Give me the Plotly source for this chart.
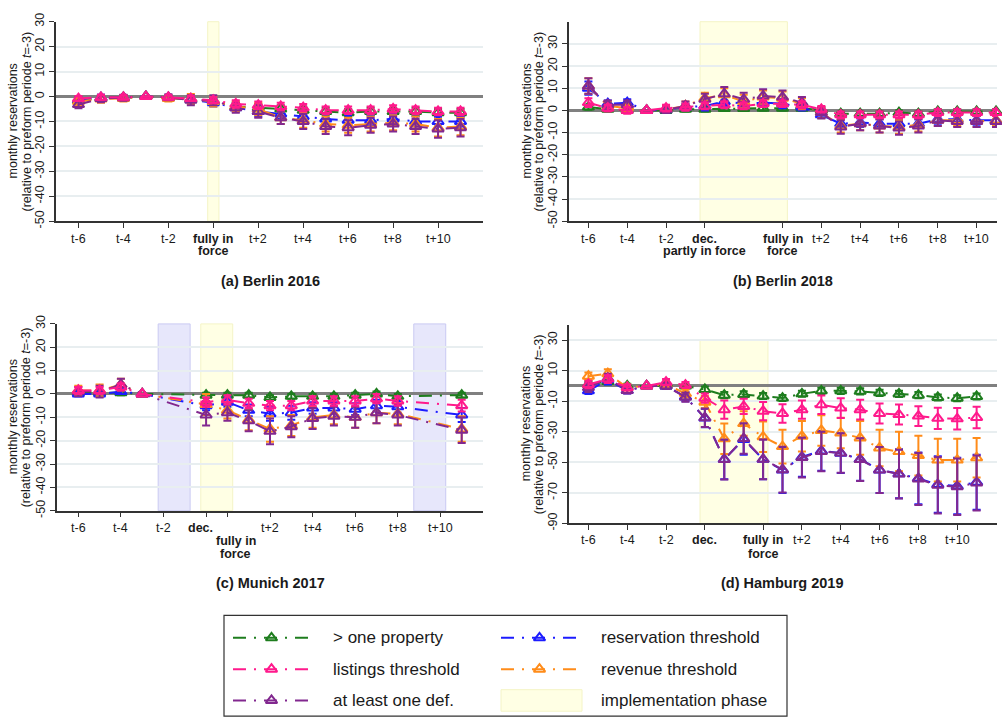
import plotly.graph_objects as go

W, H = 1002, 727
FONT = "Liberation Sans, Arial, sans-serif"

# ---------------- data ----------------
series_names = ["> one property", "reservation threshold", "revenue threshold",
                "at least one def.", "listings threshold"]
series_colors = {"> one property": "#1e7d1e", "listings threshold": "#ff1a8c",
                 "at least one def.": "#82288f", "reservation threshold": "#1c1cff",
                 "revenue threshold": "#ff8c1a"}

# (a) Berlin 2016
x_a = list(range(-6, 12))
green_a = [-1.5, -0.5, -0.3, 0, -0.5, -1.0, -2.0, -4.0, -4.5, -5.0, -5.5, -6.0, -6.5, -6.0, -6.0, -6.0, -6.5, -6.5]
pink_a = [-0.8, -0.3, -0.3, 0, -0.3, -0.8, -1.5, -3.0, -3.5, -4.0, -4.5, -5.5, -5.5, -5.5, -5.0, -5.5, -6.0, -6.0]
purple_a = [-3.2, -0.8, -0.5, 0, -0.3, -1.5, -1.5, -4.5, -6.0, -8.5, -10.0, -12.0, -12.5, -11.5, -11.0, -12.0, -13.0, -12.5]
blue_a = [-1.5, -0.5, -0.5, 0, -0.5, -1.2, -2.5, -4.5, -6.0, -7.0, -8.0, -9.0, -9.5, -9.5, -9.0, -10.0, -10.0, -10.0]
orange_a = [-2.0, -1.0, -0.8, 0, -0.8, -1.0, -2.0, -4.0, -5.0, -8.5, -9.5, -11.0, -11.5, -11.0, -10.5, -11.0, -12.5, -12.0]
green_a_err = [1.0, 1.0, 0.8, 0, 0.8, 1.0, 1.2, 1.5, 1.5, 1.5, 1.5, 1.5, 1.5, 1.5, 1.5, 1.5, 1.5, 1.5]
pink_a_err = [1.0, 1.0, 0.8, 0, 0.8, 1.0, 1.2, 1.5, 1.5, 1.5, 1.5, 1.5, 1.5, 1.5, 1.5, 1.5, 1.5, 1.5]
purple_a_err = [1.5, 1.5, 1.2, 0, 1.2, 2.0, 2.0, 2.0, 2.5, 2.5, 3.0, 3.0, 3.0, 3.0, 3.0, 3.0, 3.5, 3.5]
blue_a_err = [1.2, 1.2, 1.0, 0, 1.0, 1.5, 1.5, 1.5, 2.0, 2.0, 2.0, 2.0, 2.0, 2.0, 2.0, 2.0, 2.0, 2.0]
orange_a_err = [1.5, 1.5, 1.2, 0, 1.2, 2.0, 2.0, 2.0, 2.5, 2.5, 3.0, 3.0, 3.0, 3.0, 3.0, 3.0, 3.5, 3.5]

# (b) Berlin 2018
x_b = list(range(-6, 16))
green_b = [1.5, 0.5, 0, 0, 0, 0.5, 0.5, 0.8, 0.8, 1.0, 1.0, 1.0, 0, -1.5, -1.5, -1.5, -1.0, -1.5, -0.5, -0.5, -0.5, -0.5]
pink_b = [3.5, 1.0, 0, 0, 1.0, 1.5, 2.0, 2.5, 2.0, 3.0, 3.0, 2.5, 0.5, -2.0, -2.0, -2.0, -2.0, -2.0, -1.0, -1.0, -1.0, -1.0]
purple_b = [11.0, 2.5, 2.5, 0, 0.3, 2.0, 5.0, 7.5, 5.0, 6.5, 6.0, 3.5, -1.0, -7.5, -6.0, -7.0, -8.0, -7.0, -4.5, -5.0, -5.0, -5.0]
blue_b = [10.0, 3.0, 3.5, 0, 0.3, 1.5, 2.0, 4.0, 3.0, 3.5, 3.0, 1.5, -2.0, -6.0, -5.5, -6.0, -6.0, -6.0, -4.0, -4.0, -4.5, -4.5]
orange_b = [11.0, 2.0, 1.0, 0, 0.5, 2.0, 5.5, 7.0, 4.0, 6.0, 5.5, 3.0, -1.0, -7.0, -6.0, -7.0, -7.5, -6.5, -4.5, -4.5, -5.0, -4.5]
green_b_err = [1.2, 1.0, 1.0, 0, 1.0, 1.0, 1.0, 1.0, 1.0, 1.0, 1.0, 1.0, 1.0, 1.0, 1.0, 1.0, 1.0, 1.0, 1.0, 1.0, 1.0, 1.0]
pink_b_err = [2.0, 1.5, 1.5, 0, 1.5, 1.5, 1.5, 1.5, 1.5, 1.5, 1.5, 1.5, 1.5, 1.5, 1.5, 1.5, 1.5, 1.5, 1.5, 1.5, 1.5, 1.5]
purple_b_err = [3.5, 2.0, 2.0, 0, 1.5, 2.0, 2.5, 3.0, 3.0, 3.0, 3.0, 2.5, 2.5, 3.0, 3.0, 3.0, 3.0, 3.0, 2.5, 2.5, 2.5, 2.5]
blue_b_err = [3.0, 1.5, 1.5, 0, 1.0, 1.5, 2.0, 2.0, 2.0, 2.0, 2.0, 1.5, 1.5, 2.0, 2.0, 2.0, 2.0, 2.0, 2.0, 2.0, 2.0, 2.0]
orange_b_err = [3.5, 2.0, 2.0, 0, 1.5, 2.0, 2.5, 3.0, 3.0, 3.0, 3.0, 2.5, 2.5, 3.0, 3.0, 3.0, 3.0, 3.0, 2.5, 2.5, 2.5, 2.5]

# (c) Munich 2017
x_c = [-6, -5, -4, -3, 0, 1, 2, 3, 4, 5, 6, 7, 8, 9, 12]
green_c = [0.5, 0.5, 0.5, 0, -0.5, -0.5, -0.5, -1.5, -1.0, -1.0, -1.0, -0.5, 0, -1.0, -0.5]
pink_c = [1.5, 1.5, 3.0, 0, -3.5, -2.5, -4.0, -5.0, -5.0, -3.0, -3.0, -3.0, -2.0, -3.0, -5.0]
purple_c = [1.0, 1.0, 4.0, 0, -9.0, -8.0, -11.5, -16.0, -14.0, -10.5, -9.5, -10.0, -8.0, -9.0, -15.5]
blue_c = [0, 0, 1.0, 0, -5.0, -3.5, -7.0, -8.5, -8.0, -6.0, -6.0, -6.5, -5.0, -5.5, -9.0]
orange_c = [1.5, 1.5, 4.0, 0, -4.5, -7.0, -11.0, -15.0, -13.5, -10.0, -9.0, -10.0, -8.0, -8.5, -15.0]
green_c_err = [1.0, 1.0, 1.0, 0, 1.0, 1.0, 1.0, 1.0, 1.0, 1.0, 1.0, 1.0, 1.0, 1.0, 1.0]
pink_c_err = [1.5, 1.5, 1.5, 0, 2.0, 2.0, 2.0, 2.0, 2.0, 2.0, 2.0, 2.0, 2.0, 2.0, 2.5]
purple_c_err = [2.0, 2.5, 2.5, 0, 4.5, 3.5, 4.5, 5.5, 4.5, 4.5, 4.0, 4.5, 4.5, 4.5, 5.5]
blue_c_err = [1.0, 1.0, 1.0, 0, 2.0, 2.0, 2.5, 3.0, 3.0, 2.5, 2.5, 2.5, 2.5, 2.5, 3.0]
orange_c_err = [2.0, 2.5, 2.5, 0, 4.5, 3.5, 4.5, 5.5, 4.5, 4.5, 4.0, 4.5, 4.5, 4.5, 5.5]

# (d) Hamburg 2019
x_d = list(range(-6, 15))
green_d = [1, 3, 0, 0, 0, 0, -2.3, -6, -5.5, -6.6, -7.9, -5.1, -3.2, -3.2, -3.5, -4.5, -5.2, -6.0, -7.5, -8.0, -6.9]
pink_d = [1, 4.5, -1, 0, 2.5, 0.6, -8, -15.5, -13.4, -16.5, -18, -15.5, -12.3, -14.5, -15.5, -18, -18.7, -19.7, -21.2, -21.5, -20.6]
orange_d = [6.4, 8, -1, 0, 1, -5, -10.6, -34.6, -24.6, -33.3, -39.7, -32.9, -29.1, -30.8, -34, -40.6, -42.9, -45.6, -48.5, -48.5, -47]
purple_d = [-1, 5, -3, 0, 0, -7.4, -20.8, -48.2, -34.4, -48, -54.8, -46.9, -42.9, -43.9, -48.2, -55, -57.7, -60.9, -65, -66, -63.5]
blue_d = [-3.2, 4, -3, 0, 0, -7, -21, -48, -35, -48, -55, -46.5, -42.5, -44, -48, -55, -57.5, -60.5, -64.5, -65.5, -63]
green_d_err = [2.0, 2.0, 1.5, 0, 1.5, 1.5, 2.0, 2.0, 2.0, 2.0, 2.0, 2.0, 2.0, 2.0, 2.0, 2.0, 2.0, 2.0, 2.0, 2.0, 2.0]
pink_d_err = [2.5, 2.5, 2.0, 0, 2.0, 2.0, 3.0, 6.0, 5.0, 6.0, 6.0, 6.0, 6.0, 6.5, 6.5, 6.5, 6.5, 6.5, 7.0, 7.0, 7.0]
orange_d_err = [2.5, 3.0, 2.0, 0, 2.0, 2.5, 4.0, 10.0, 8.0, 10.0, 11.0, 10.0, 10.0, 10.0, 11.0, 12.0, 13.0, 13.0, 14.0, 14.0, 13.0]
purple_d_err = [3.0, 3.0, 2.0, 0, 2.0, 3.0, 6.0, 13.0, 10.0, 13.0, 15.0, 13.0, 13.0, 13.0, 14.0, 15.0, 16.0, 17.0, 18.5, 18.5, 18.0]
blue_d_err = [2.0, 3.0, 2.0, 0, 2.0, 3.0, 6.0, 13.0, 10.0, 13.0, 15.0, 13.0, 13.0, 13.0, 14.0, 15.0, 16.0, 17.0, 18.5, 18.5, 18.0]

# tick labels (value, first line, second line, third line)
ticks_a = [(-6, "t-6"), (-4, "t-4"), (-2, "t-2"), (0, "<b>fully in</b>", "<b>force</b>"),
           (2, "t+2"), (4, "t+4"), (6, "t+6"), (8, "t+8"), (10, "t+10")]
ticks_b = [(-6, "t-6"), (-4, "t-4"), (-2, "t-2"), (0, "<b>dec.</b>", "<b>partly in force</b>"),
           (4, "<b>fully in</b>", "<b>force</b>"), (6, "t+2"), (8, "t+4"), (10, "t+6"),
           (12, "t+8"), (14, "t+10")]
ticks_c = [(-6, "t-6"), (-4, "t-4"), (-2, "t-2"), (0, "<b>dec.</b>"), (1, "", "<b>fully in</b>", "<b>force</b>"),
           (3, "t+2"), (5, "t+4"), (7, "t+6"), (9, "t+8"), (11, "t+10")]
ticks_d = [(-6, "t-6"), (-4, "t-4"), (-2, "t-2"), (0, "<b>dec.</b>"), (3, "<b>fully in</b>", "<b>force</b>"),
           (5, "t+2"), (7, "t+4"), (9, "t+6"), (11, "t+8"), (13, "t+10")]
label_shift_c = {0: -0.28, 1: 0.4}

yticks_abc = [-50, -40, -30, -20, -10, 0, 10, 20, 30]
yticks_d = [-90, -70, -50, -30, -10, 10, 30]

titles = ["(a) Berlin 2016", "(b) Berlin 2018", "(c) Munich 2017", "(d) Hamburg 2019"]
ytitle1 = "monthly reservations"
ytitle2 = "(relative to preform periode <i>t</i>=-3)"

legend_col1 = ["> one property", "listings threshold", "at least one def."]
legend_col2 = ["reservation threshold", "revenue threshold"]
legend_phase = "implementation phase"

# ---------------- layout helpers ----------------
def fx(p):
    return p / W

def fy(p):
    return 1 - p / H

panels = [
    dict(ax="", x=x_a, data={"> one property": (green_a, green_a_err), "listings threshold": (pink_a, pink_a_err),
                              "at least one def.": (purple_a, purple_a_err), "reservation threshold": (blue_a, blue_a_err),
                              "revenue threshold": (orange_a, orange_a_err)},
         dom=(56, 483, 13, 217), xr=[-7, 12], yr=[-50, 30], yt=yticks_abc, ticks=ticks_a,
         lines=(235, 247, 259), bands=[(-0.25, 0.25, "y", None)], title_xy=(270, 278),
         yt_x=(13, 27)),
    dict(ax="2", x=x_b, data={"> one property": (green_b, green_b_err), "listings threshold": (pink_b, pink_b_err),
                               "at least one def.": (purple_b, purple_b_err), "reservation threshold": (blue_b, blue_b_err),
                               "revenue threshold": (orange_b, orange_b_err)},
         dom=(569, 997, 13, 217), xr=[-7, 15.05], yr=[-50, 40], yt=yticks_abc, ticks=ticks_b,
         lines=(235, 247, 259), bands=[(-0.25, 4.25, "y", None)], title_xy=(783, 278),
         yt_x=(527, 539)),
    dict(ax="3", x=x_c, data={"> one property": (green_c, green_c_err), "listings threshold": (pink_c, pink_c_err),
                               "at least one def.": (purple_c, purple_c_err), "reservation threshold": (blue_c, blue_c_err),
                               "revenue threshold": (orange_c, orange_c_err)},
         dom=(57, 483, 322, 513), xr=[-7, 13], yr=[-50, 30], yt=yticks_abc, ticks=ticks_c,
         lines=(531, 544, 557), bands=[(-2.25, -0.75, "b", None), (-0.25, 1.25, "y", None), (9.75, 11.25, "b", None)],
         title_xy=(270, 587), yt_x=(13, 26)),
    dict(ax="4", x=x_d, data={"> one property": (green_d, green_d_err), "listings threshold": (pink_d, pink_d_err),
                               "at least one def.": (purple_d, purple_d_err), "reservation threshold": (blue_d, blue_d_err),
                               "revenue threshold": (orange_d, orange_d_err)},
         dom=(569, 997, 323, 526), xr=[-7, 15.05], yr=[-90, 40], yt=yticks_d, ticks=ticks_d,
         lines=(543, 557, 570), bands=[(-0.25, 3.25, "y", (-90, 30))], title_xy=(782, 587),
         yt_x=(526, 539)),
]

DASH = "13px,8px,2px,8px"
fig = go.Figure()
layout = dict(width=W, height=H, margin=dict(l=0, r=0, t=0, b=0),
              paper_bgcolor="white", plot_bgcolor="rgba(0,0,0,0)", showlegend=False,
              font=dict(family=FONT, size=12.5, color="#1a1a1a"))
shapes = []
annotations = []

for i, p in enumerate(panels):
    ax = p["ax"]
    xname, yname = "x" + ax, "y" + ax
    l, r, t, b = p["dom"]
    layout["xaxis" + ax] = dict(domain=[fx(l), fx(r)], range=p["xr"], anchor=yname,
                                showgrid=False, zeroline=False, showline=True, linecolor="#333333",
                                linewidth=1.5, ticks="outside", ticklen=5, tickwidth=1.2, tickcolor="#333333",
                                tickvals=[tk[0] for tk in p["ticks"]], showticklabels=False, fixedrange=True)
    layout["yaxis" + ax] = dict(domain=[fy(b), fy(t)], range=p["yr"], anchor=xname,
                                showgrid=True, gridcolor="#e8eef0", gridwidth=1.5,
                                zeroline=True, zerolinecolor="#808080", zerolinewidth=2.5,
                                showline=True, linecolor="#333333", linewidth=1.5,
                                ticks="outside", ticklen=5, tickwidth=1.2, tickcolor="#333333",
                                tickvals=p["yt"], ticktext=[str(v) for v in p["yt"]], tickangle=-90,
                                tickfont=dict(size=12.5, color="#1a1a1a"), fixedrange=True)
    for (x0, x1, kind, yy) in p["bands"]:
        fill = "#ffffe4" if kind == "y" else "#e7e7fb"
        edge = "#f4f4c6" if kind == "y" else "#cacaf2"
        if yy is None:
            shapes.append(dict(type="rect", xref=xname, yref=yname + " domain", x0=x0, x1=x1, y0=0, y1=1,
                               fillcolor=fill, line=dict(color=edge, width=1), layer="below"))
        else:
            shapes.append(dict(type="rect", xref=xname, yref=yname, x0=x0, x1=x1, y0=yy[0], y1=yy[1],
                               fillcolor=fill, line=dict(color=edge, width=1), layer="below"))
    for name in series_names:
        yv, ev = p["data"][name]
        c = series_colors[name]
        fig.add_trace(go.Scatter(
            x=p["x"], y=yv, xaxis=xname, yaxis=yname, mode="lines+markers", name=name,
            line=dict(color=c, width=2, dash=DASH),
            marker=dict(symbol="triangle-up-open", size=10, color=c, line=dict(width=2, color=c)),
            error_y=dict(type="data", array=ev, visible=True, color=c, thickness=2, width=4),
            cliponaxis=False, showlegend=False, hoverinfo="skip"))
    # x tick labels
    for tk in p["ticks"]:
        xv = tk[0]
        shift = label_shift_c.get(xv, 0) if ax == "3" else 0
        for k, txt in enumerate(tk[1:]):
            if txt:
                annotations.append(dict(x=xv + shift, y=fy(p["lines"][k]), xref=xname, yref="paper",
                                        text=txt, showarrow=False, xanchor="center", yanchor="middle",
                                        font=dict(size=12.5, color="#1a1a1a")))
    # y titles
    cy = (t + b) / 2
    annotations.append(dict(x=fx(p["yt_x"][0]), y=fy(cy), xref="paper", yref="paper", text=ytitle1,
                            textangle=-90, showarrow=False, xanchor="center", yanchor="middle",
                            font=dict(size=12.5, color="#1a1a1a")))
    annotations.append(dict(x=fx(p["yt_x"][1]), y=fy(cy), xref="paper", yref="paper", text=ytitle2,
                            textangle=-90, showarrow=False, xanchor="center", yanchor="middle",
                            font=dict(size=12.5, color="#1a1a1a")))
    # panel title
    annotations.append(dict(x=fx(p["title_xy"][0]), y=fy(p["title_xy"][1]), xref="paper", yref="paper",
                            text="<b>" + titles[i] + "</b>", showarrow=False, xanchor="center",
                            yanchor="middle", font=dict(size=14.5, color="#1a1a1a")))

# ---------------- manual legend ----------------
LX0, LX1, LY0, LY1 = 224, 787, 620, 723
layout["xaxis5"] = dict(domain=[fx(LX0), fx(LX1)], range=[LX0, LX1], anchor="y5", visible=False, fixedrange=True)
layout["yaxis5"] = dict(domain=[fy(LY1), fy(LY0)], range=[LY1, LY0], anchor="x5", visible=False, fixedrange=True)
shapes.append(dict(type="rect", xref="paper", yref="paper", x0=fx(LX0), x1=fx(LX1), y0=fy(LY1), y1=fy(LY0),
                   line=dict(color="#333333", width=1.2), fillcolor="rgba(0,0,0,0)", layer="above"))
rows = [643, 675, 707]
cols = [(233, 331), (501, 599)]
entries = [(legend_col1[0], 0, 0), (legend_col1[1], 0, 1), (legend_col1[2], 0, 2),
           (legend_col2[0], 1, 0), (legend_col2[1], 1, 1)]
for name, ci, ri in entries:
    x0, xt = cols[ci]
    yrow = rows[ri]
    c = series_colors[name]
    fig.add_trace(go.Scatter(x=[x0, x0 + 77], y=[yrow, yrow], xaxis="x5", yaxis="y5", mode="lines",
                             line=dict(color=c, width=2, dash=DASH), showlegend=False, hoverinfo="skip"))
    fig.add_trace(go.Scatter(x=[x0 + 38.5], y=[yrow], xaxis="x5", yaxis="y5", mode="markers",
                             marker=dict(symbol="triangle-up-open", size=10, color=c, line=dict(width=2, color=c)),
                             showlegend=False, hoverinfo="skip"))
    annotations.append(dict(x=fx(xt), y=fy(yrow), xref="paper", yref="paper", text=name, showarrow=False,
                            xanchor="left", yanchor="middle", font=dict(size=17, color="#1a1a1a")))
shapes.append(dict(type="rect", xref="paper", yref="paper", x0=fx(501), x1=fx(582), y0=fy(718), y1=fy(696),
                   fillcolor="#ffffe4", line=dict(color="#f4f4c6", width=1), layer="above"))
annotations.append(dict(x=fx(599), y=fy(rows[2]), xref="paper", yref="paper", text=legend_phase,
                        showarrow=False, xanchor="left", yanchor="middle", font=dict(size=17, color="#1a1a1a")))

layout["shapes"] = shapes
layout["annotations"] = annotations
fig.update_layout(**layout)
fig.write_html("out.html")
